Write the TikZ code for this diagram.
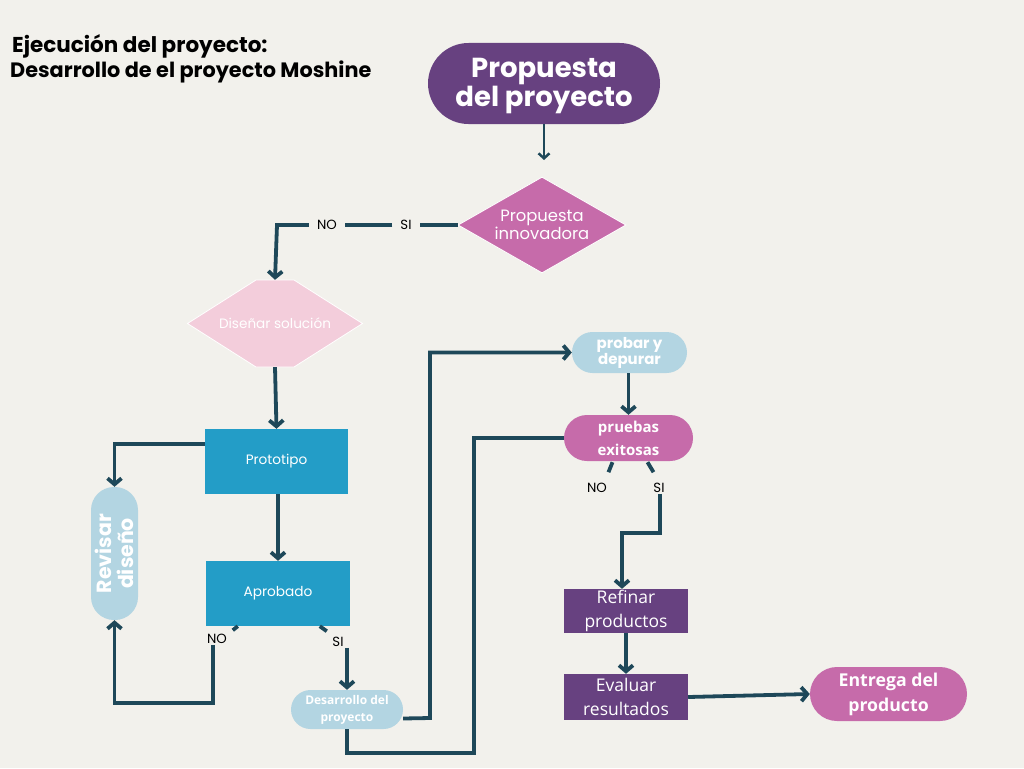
\documentclass[tikz,border=0pt]{standalone}
\usepackage{fontspec}
\setmainfont{Poppins}
\newfontfamily\opensans{Open Sans}
\usetikzlibrary{arrows.meta,shapes.geometric,shapes.misc,calc}
\definecolor{bg}{HTML}{F2F1EC}
\definecolor{ln}{HTML}{1E4859}
\definecolor{purp}{HTML}{674180}
\definecolor{mag}{HTML}{C66BAA}
\definecolor{lblue}{HTML}{B3D5E2}
\definecolor{cblue}{HTML}{239DC7}
\definecolor{lpink}{HTML}{F3CDDB}
\begin{document}
\begin{tikzpicture}[x=1pt,y=-1pt,
  conn/.style={draw=ln,line width=3.8pt},
  arr/.style={conn,-{Straight Barb[length=6pt,width=14pt]}},
  pill/.style={rounded rectangle,inner sep=0pt,text=white,align=center},
  boxx/.style={rectangle,inner sep=0pt,text=white,align=center},
  lab/.style={font=\fontsize{13.3}{13}\selectfont,text=black,inner xsep=8pt,inner ysep=2pt},
  tick/.style={draw=ln,line width=3.8pt}
]
\fill[bg] (0,0) rectangle (1024,768);
\useasboundingbox (0,0) rectangle (1024,768);

% title
\node[anchor=west,font=\bfseries\fontsize{21.5}{24}\selectfont,inner sep=0pt] (t1) at (12,46) {Ejecución del proyecto:};
\node[anchor=west,font=\bfseries\fontsize{20.8}{24}\selectfont,inner sep=0pt] (t2) at (10,72) {Desarrollo de el proyecto Moshine};

% nodes
\node[pill,fill=purp,minimum width=232pt,minimum height=81pt] (prop) at (544,83.5) {};
\node[text=white,align=center,font=\bfseries\fontsize{27.5}{27}\selectfont] (propt) at (544,86) {Propuesta\\del proyecto};
\coordinate (c1) at (544,160);

\node[diamond,aspect=1.75,fill=mag,draw=white,line width=0.8pt,minimum width=168pt,minimum height=96pt,inner sep=0pt,text=white,align=center,font=\fontsize{16.4}{17.5}\selectfont] (innov) at (542,225) {Propuesta\\innovadora};

\fill[lpink,draw=white,line width=0.8pt] (187.5,323.5) -- (256,280) -- (294,280) -- (362.5,323.5) -- (294,367) -- (256,367) -- cycle;
\node[minimum width=175pt,minimum height=87pt,inner sep=0pt,text=white,font=\fontsize{13.6}{14}\selectfont] (dis) at (275,323.5) {Diseñar solución};

\node[boxx,fill=cblue,minimum width=143pt,minimum height=65pt,font=\fontsize{13.6}{14}\selectfont] (proto) at (276.5,461.5) {Prototipo};
\node[boxx,fill=cblue,minimum width=144pt,minimum height=65pt,font=\fontsize{13.7}{14}\selectfont] (apr) at (278,593.5) {Aprobado};

\node[rectangle,rounded corners=23pt,fill=lblue,minimum width=47pt,minimum height=133pt] (rev) at (114.5,553.5) {};
\node[rotate=90,text=white,align=center,font=\bfseries\fontsize{20.5}{21.5}\selectfont] (revt) at (rev) {Revisar\\diseño};

\node[pill,fill=lblue,minimum width=112pt,minimum height=39pt,font=\opensans\bfseries\fontsize{12}{17}\selectfont] (des) at (347,709.5) {Desarrollo del\\proyecto};

\node[pill,fill=lblue,minimum width=115pt,minimum height=41pt,font=\bfseries\fontsize{15}{15}\selectfont] (prob) at (629.5,352.5) {probar y\\depurar};
\node[pill,fill=mag,minimum width=129pt,minimum height=46pt,font=\opensans\bfseries\fontsize{15}{23}\selectfont] (prue) at (628.5,438) {pruebas\\exitosas};

\node[boxx,fill=purp,minimum width=124pt,minimum height=44pt,font=\opensans\fontsize{17.5}{24.5}\selectfont] (ref) at (626,611) {Refinar\\productos};
\node[boxx,fill=purp,minimum width=124pt,minimum height=46pt,font=\opensans\fontsize{17.5}{24.5}\selectfont] (eva) at (626,697) {Evaluar\\resultados};
\node[pill,fill=mag,minimum width=157pt,minimum height=54pt,font=\opensans\bfseries\fontsize{17.7}{25}\selectfont] (ent) at (888.5,694) {Entrega del\\producto};

% labels
\node[lab] (si1) at (406,225) {SI};
\node[lab] (no1) at (327,225) {NO};
\coordinate (k0) at (277,225);
\node[lab,inner sep=1pt] (noA) at (217,639) {NO};
\node[lab,inner sep=1pt] (siA) at (338,642) {SI};
\node[lab,inner sep=1pt] (noB) at (597,488) {NO};
\node[lab,inner sep=1pt] (siB) at (659,488) {SI};
\coordinate (k1) at (430,718);
\coordinate (k2) at (474,753);
\coordinate (k3) at (213,703);
\coordinate (k4) at (660,533);

% connectors
\draw[draw=ln,line width=2.5pt,-{Straight Barb[length=5pt,width=11pt]}] (prop.south) -- (c1);
\draw[conn] (innov.west) -- (si1);
\draw[conn] (si1) -- (no1);
\draw[arr] (no1) -- (k0) -- (dis.north);
\draw[arr] (dis.south) -- (proto.north);
\draw[arr] ($(proto.north west)+(0,15)$) -| (rev.north);
\draw[arr] (proto.south -| apr.north) -- (apr.north);

% Aprobado branches
\draw[tick] ($(apr.south west)+(32,0)$) -- ($(apr.south west)+(27,4)$);
\draw[arr] (noA.south -| k3) -- (k3) -| (rev.south);
\draw[tick] ($(apr.south west)+(114,0)$) -- ($(apr.south west)+(121,5)$);
\draw[arr] (siA.south -| des.north) -- (des.north);

\draw[arr] ($(des.east)+(0,9)$) -- (k1) |- (prob.west);
\draw[conn] (des.south) |- (k2) |- (prue.west);
\draw[arr] (prob.south -| prue.north) -- (prue.north);

% pruebas branches
\draw[tick] ($(prue.south)+(-16,1)$) -- ($(prue.south)+(-20,11)$);
\draw[tick] ($(prue.south)+(19,1)$) -- ($(prue.south)+(25,11)$);
\draw[arr] (siB.south -| k4) -- (k4) -| ($(ref.north)+(-4,0)$);

\draw[arr] (ref.south) -- (eva.north);
\draw[arr] (eva.east) -- (ent.west);
\end{tikzpicture}
\end{document}
